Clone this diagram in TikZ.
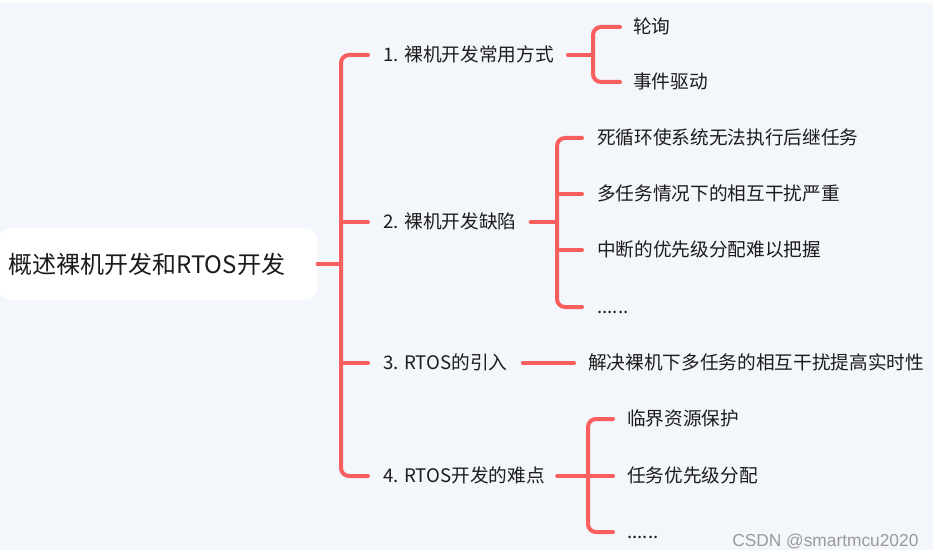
\documentclass[tikz,border=0pt]{standalone}
\usepackage{fontspec}
\setmainfont{Noto Sans CJK SC}
\newfontfamily\wmfont{Liberation Sans}
\usetikzlibrary{calc}
\definecolor{bgc}{HTML}{F3F6FA}
\definecolor{lnk}{HTML}{F95E5E}
\definecolor{txt}{HTML}{1C1C1C}
\definecolor{wm}{HTML}{9A9A9A}
\tikzset{
  lbl/.style={anchor=west, inner sep=0pt, text=txt, font=\fontsize{14}{17}\selectfont, text height=11.2pt, text depth=1.8pt},
  rootbox/.style={anchor=west, fill=white, rounded corners=9pt, inner xsep=7.5pt, inner ysep=0pt,
     text width=224.25pt, align=left, minimum height=54pt, text=txt, font=\fontsize{18}{22}\selectfont},
  link/.style={draw=lnk, line width=3pt, rounded corners=6pt, line cap=round},
}
\begin{document}
\begin{tikzpicture}[x=0.75pt,y=-0.75pt]
\useasboundingbox (0,0) rectangle (935,556);
\fill[white] (0,0) rectangle (935,556);
\fill[bgc] (0,3) rectangle (933,550);

% root
\node[rootbox] (root) at (-2,264) {概述裸机开发和RTOS开发};

% level 1
\node[lbl] (b1) at (383,55) {1. 裸机开发常用方式};
\node[lbl] (b2) at (383,222) {2. 裸机开发缺陷};
\node[lbl] (b3) at (383,363) {3. RTOS的引入};
\node[lbl] (b4) at (383,476) {4. RTOS开发的难点};

% leaves
\node[lbl] (l11) at (633,27) {轮询};
\node[lbl] (l12) at (633,82) {事件驱动};
\node[lbl] (l21) at (597,138) {死循环使系统无法执行后继任务};
\node[lbl] (l22) at (597,194) {多任务情况下的相互干扰严重};
\node[lbl] (l23) at (597,250) {中断的优先级分配难以把握};
\node[lbl] (l24) at (597,307) {......};
\node[lbl] (l31) at (588,363) {解决裸机下多任务的相互干扰提高实时性};
\node[lbl] (l41) at (627,419) {临界资源保护};
\node[lbl] (l42) at (627,476) {任务优先级分配};
\node[lbl] (l43) at (627,532) {......};

% watermark
\node[anchor=west, inner sep=0pt, text=wm, font=\wmfont\fontsize{13}{16}\selectfont] (wmk) at (732,541) {CSDN @smartmcu2020};

% trunk
\coordinate (tr) at (341,264);
\draw[link] (root.east) -- (tr);
\draw[link] ($(b1.west)+(-15,0)$) -| (tr) |- ($(b4.west)+(-15,0)$);
\draw[link] (tr |- b2.west) -- ($(b2.west)+(-15,0)$);
\draw[link] (tr |- b3.west) -- ($(b3.west)+(-15,0)$);

% bracket 1
\coordinate (k1) at (593,55);
\draw[link] ($(b1.east)+(14,0)$) -- (k1);
\draw[link] ($(l11.west)+(-13,0)$) -| (k1) |- ($(l12.west)+(-13,0)$);

% bracket 2
\coordinate (k2) at (557,222);
\draw[link] ($(b2.east)+(14,0)$) -- (k2);
\draw[link] ($(l21.west)+(-15,0)$) -| (k2) |- ($(l24.west)+(-15,0)$);
\draw[link] (k2 |- l22.west) -- ($(l22.west)+(-15,0)$);
\draw[link] (k2 |- l23.west) -- ($(l23.west)+(-15,0)$);

% branch 3
\draw[link] ($(b3.east)+(15,0)$) -- ($(l31.west)+(-14,0)$);

% bracket 4
\coordinate (k4) at (588,476);
\draw[link] ($(b4.east)+(12,0)$) -- (k4);
\draw[link] ($(l41.west)+(-14,0)$) -| (k4) |- ($(l43.west)+(-14,0)$);
\draw[link] (k4) -- ($(l42.west)+(-14,0)$);
\end{tikzpicture}
\end{document}
